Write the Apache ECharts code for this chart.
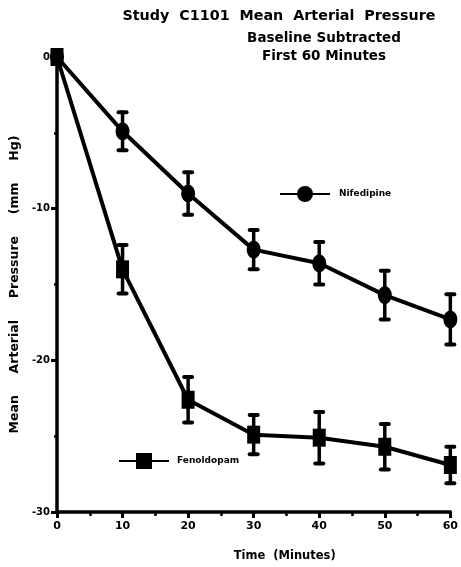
<!DOCTYPE html>
<html>
<head>
<meta charset="utf-8">
<script src="https://cdn.jsdelivr.net/npm/echarts@6/dist/echarts.min.js"></script>
<style>
  html, body { margin: 0; padding: 0; background: #fff; }
  #chart { width: 461px; height: 567px; }
</style>
</head>
<body>
<div id="chart"></div>
<script>
// Study C1101: mean arterial pressure change from baseline, first 60 minutes
const times = [0, 10, 20, 30, 40, 50, 60];
const nifedipine = [0, -4.9, -9.0, -12.7, -13.6, -15.7, -17.3];
const nifedipineErr = [0, 1.25, 1.4, 1.3, 1.4, 1.6, 1.65];
const fenoldopam = [0, -14.0, -22.6, -24.9, -25.1, -25.7, -26.9];
const fenoldopamErr = [0, 1.6, 1.5, 1.3, 1.7, 1.5, 1.2];
const xTicks = [0, 10, 20, 30, 40, 50, 60];
const yTicks = [0, -10, -20, -30];

const FONT = 'DejaVu Sans';
const INK = '#000';

function pairs(vals) {
  return times.map((t, i) => [t, vals[i]]);
}
function errRows(vals, errs) {
  return times.map((t, i) => [t, vals[i], errs[i]]);
}

// vertical error bar with rounded caps
function errorBar(params, api) {
  const x = api.value(0), y = api.value(1), e = api.value(2);
  if (!e) return null;
  const top = api.coord([x, y + e]);
  const bot = api.coord([x, y - e]);
  const hw = 4;
  const style = { stroke: INK, lineWidth: 3.5, lineCap: 'round' };
  const cap = Object.assign({}, style, { lineWidth: 4 });
  return {
    type: 'group',
    children: [
      { type: 'line', shape: { x1: top[0], y1: top[1], x2: bot[0], y2: bot[1] }, style },
      { type: 'line', shape: { x1: top[0] - hw, y1: top[1], x2: top[0] + hw, y2: top[1] }, style: cap },
      { type: 'line', shape: { x1: bot[0] - hw, y1: bot[1], x2: bot[0] + hw, y2: bot[1] }, style: cap }
    ]
  };
}

const chart = echarts.init(document.getElementById('chart'), null, { renderer: 'canvas' });

const boldText = { fontFamily: FONT, fontWeight: 'bold', color: INK };

chart.setOption({
  animation: false,
  backgroundColor: '#fff',
  title: [
    {
      text: 'Study  C1101  Mean  Arterial  Pressure',
      left: 274, top: 4, textAlign: 'center',
      textStyle: Object.assign({ fontSize: 14.3 }, boldText)
    },
    {
      text: 'Baseline Subtracted\nFirst 60 Minutes',
      left: 319, top: 24, textAlign: 'center',
      textStyle: Object.assign({ fontSize: 13.5, lineHeight: 18 }, boldText)
    }
  ],
  legend: [
    {
      data: ['Nifedipine'],
      left: 274, top: 181,
      itemWidth: 50, itemHeight: 20,
      textStyle: Object.assign({ fontSize: 9, padding: [0, 0, 0, 4] }, boldText)
    },
    {
      data: ['Fenoldopam'],
      left: 113, top: 448,
      itemWidth: 50, itemHeight: 20,
      textStyle: Object.assign({ fontSize: 9, padding: [0, 0, 0, 3] }, boldText)
    }
  ],
  grid: { left: 56, right: 9, top: 57, bottom: 49, containLabel: false },
  xAxis: {
    type: 'value',
    min: 0, max: 60, interval: 10,
    name: 'Time  (Minutes)',
    nameLocation: 'middle',
    nameGap: 38,
    nameTextStyle: Object.assign({ fontSize: 11.5, padding: [0, 0, 0, 62] }, boldText),
    axisLine: { show: true, onZero: false, lineStyle: { color: INK, width: 3.5 } },
    axisTick: { show: true, inside: false, length: 6, lineStyle: { color: INK, width: 3 } },
    minorTick: { show: true, splitNumber: 2, length: 4, lineStyle: { color: INK, width: 2.5 } },
    axisLabel: Object.assign({ fontSize: 11, margin: 9,
      formatter: v => (xTicks.indexOf(v) >= 0 ? String(v) : '') }, boldText),
    splitLine: { show: false }
  },
  yAxis: {
    type: 'value',
    min: -30, max: 0, interval: 10,
    name: 'Mean     Arterial     Pressure     (mm     Hg)',
    nameLocation: 'middle',
    nameGap: 36,
    nameRotate: 90,
    nameTextStyle: Object.assign({ fontSize: 12.5 }, boldText),
    axisLine: { show: true, onZero: false, lineStyle: { color: INK, width: 3.5 } },
    axisTick: { show: true, inside: false, length: 6, lineStyle: { color: INK, width: 3 } },
    minorTick: { show: true, splitNumber: 2, length: 3, lineStyle: { color: INK, width: 2.5 } },
    axisLabel: Object.assign({ fontSize: 10, margin: 7,
      formatter: v => (yTicks.indexOf(v) >= 0 ? String(v) : '') }, boldText),
    splitLine: { show: false }
  },
  series: [
    {
      name: 'Nifedipine',
      type: 'line',
      data: pairs(nifedipine),
      symbol: 'circle',
      symbolSize: [14, 18],
      lineStyle: { color: INK, width: 4 },
      itemStyle: { color: INK, borderWidth: 0 },
      z: 3
    },
    {
      name: 'Nifedipine',
      type: 'custom',
      data: errRows(nifedipine, nifedipineErr),
      renderItem: errorBar,
      z: 2
    },
    {
      name: 'Fenoldopam',
      type: 'line',
      data: pairs(fenoldopam),
      symbol: 'rect',
      symbolSize: [13, 18],
      lineStyle: { color: INK, width: 4 },
      itemStyle: { color: INK, borderWidth: 0 },
      z: 4
    },
    {
      name: 'Fenoldopam',
      type: 'custom',
      data: errRows(fenoldopam, fenoldopamErr),
      renderItem: errorBar,
      z: 2
    }
  ]
});
</script>
</body>
</html>
